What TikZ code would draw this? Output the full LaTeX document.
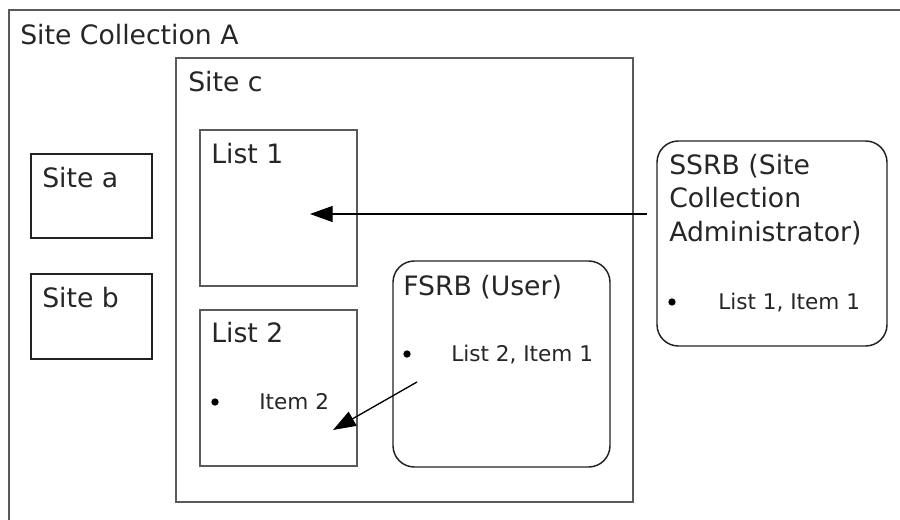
\documentclass[tikz,border=0pt]{standalone}
\usepackage{fontspec}
\setmainfont{DejaVu Sans}
\usetikzlibrary{arrows.meta,fit}
\definecolor{boxgray}{HTML}{5A5A5A}
\definecolor{linedark}{HTML}{222222}
\definecolor{txt}{HTML}{262626}
\begin{document}
\begin{tikzpicture}[x=0.75pt,y=-0.75pt,
  box/.style={draw=boxgray, line width=1.4pt, inner sep=0pt},
  thinbox/.style={draw=linedark, line width=1.1pt, inner sep=0pt},
  roundbox/.style={draw=linedark, line width=1.1pt, inner sep=0pt, rounded corners=16pt},
  bigtext/.style={anchor=base west, inner sep=0pt, text=txt, font=\fontsize{20}{25}\selectfont},
  smalltext/.style={anchor=base west, inner sep=0pt, text=txt, font=\fontsize{16.2}{20}\selectfont},
  bulletdot/.style={circle, fill=black, inner sep=0pt, minimum size=5.5pt},
  arr/.style={draw=black, line width=1pt, -{Triangle[length=17pt,width=12pt]}}]
\clip (0,0) rectangle (900,520);
\fill[white] (0,0) rectangle (900,520);
% boxes
\node[box, fit={(9,10) (910,530)}] (collA) {};
\node[box, fit={(176,58) (633,502)}] (sitec) {};
\node[box, fit={(200,130) (357,286)}] (list1) {};
\node[box, fit={(200,310) (357,466)}] (list2) {};
\node[thinbox, fit={(31,154) (152,238)}] (sitea) {};
\node[thinbox, fit={(31,274) (152,359)}] (siteb) {};
\node[roundbox, fit={(393,261) (610,467)}] (fsrb) {};
\node[roundbox, fit={(657,141) (887,346)}] (ssrb) {};
% texts
\node[bigtext] (tcollA) at (20,45) {Site Collection A};
\node[bigtext] (tsitec) at (188,92) {Site c};
\node[bigtext] (tlist1) at (211,164) {List 1};
\node[bigtext] (tsitea) at (42,188) {Site a};
\node[bigtext] (tsiteb) at (42,308) {Site b};
\node[bigtext] (tlist2) at (211,343) {List 2};
\node[bigtext] (tfsrb) at (403,296) {FSRB (User)};
\node[bigtext] (tssrb1) at (669,175) {SSRB (Site};
\node[bigtext] (tssrb2) at (669,208) {Collection};
\node[bigtext] (tssrb3) at (669,242) {Administrator)};
% bullet items
\node[bulletdot] (b1) at (215,402) {};
\node[smalltext] (item2) at (259,409) {Item 2};
\node[bulletdot] (b2) at (407,354) {};
\node[smalltext] (l2i1) at (451,362) {List 2, Item 1};
\node[bulletdot] (b3) at (672,302) {};
\node[smalltext] (l1i1) at (718,310) {List 1, Item 1};
% arrows
\coordinate (a1s) at (647,214);
\coordinate (a1e) at (310,214);
\coordinate (a2s) at (417,382);
\coordinate (a2e) at (333,430);
\draw[arr] (a1s) -- (a1e);
\draw[arr] (a2s) -- (a2e);
\end{tikzpicture}
\end{document}
